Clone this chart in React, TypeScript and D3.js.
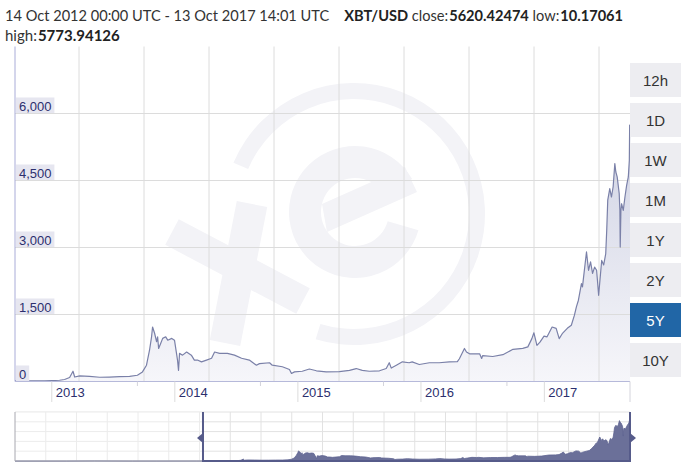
import React from 'react';
import * as d3 from 'd3';

// ---- data ----
const dates = ['2012-09-14','2012-10-28','2012-12-11','2013-01-01','2013-01-24','2013-02-08','2013-02-23','2013-03-05','2013-03-10','2013-03-25','2013-04-23','2013-05-23','2013-06-21','2013-07-21','2013-08-20','2013-09-12','2013-09-27','2013-10-09','2013-10-18','2013-10-24','2013-10-27','2013-11-02','2013-11-08','2013-11-11','2013-11-14','2013-11-20','2013-11-26','2013-12-05','2013-12-11','2013-12-23','2013-12-31','2014-01-06','2014-01-09','2014-01-12','2014-01-15','2014-01-24','2014-02-05','2014-02-19','2014-02-28','2014-03-09','2014-03-21','2014-04-05','2014-04-20','2014-04-29','2014-05-14','2014-06-06','2014-06-27','2014-07-18','2014-08-10','2014-08-31','2014-09-09','2014-10-09','2014-10-17','2014-11-16','2014-12-07','2014-12-13','2014-12-22','2015-01-14','2015-02-04','2015-02-25','2015-03-26','2015-05-04','2015-06-03','2015-06-23','2015-07-11','2015-08-01','2015-08-31','2015-09-20','2015-09-29','2015-10-05','2015-10-20','2015-11-07','2015-11-27','2015-12-06','2015-12-27','2016-01-26','2016-02-24','2016-03-25','2016-04-18','2016-04-24','2016-05-09','2016-05-15','2016-05-24','2016-06-23','2016-06-29','2016-07-02','2016-08-01','2016-08-31','2016-09-30','2016-10-29','2016-11-13','2016-11-25','2016-12-01','2016-12-10','2016-12-19','2016-12-31','2017-01-09','2017-01-24','2017-02-05','2017-02-14','2017-02-23','2017-03-10','2017-03-22','2017-03-31','2017-04-06','2017-04-12','2017-04-21','2017-04-24','2017-05-03','2017-05-06','2017-05-12','2017-05-18','2017-05-24','2017-05-30','2017-06-05','2017-06-11','2017-06-20','2017-06-26','2017-07-02','2017-07-05','2017-07-08','2017-07-14','2017-07-19','2017-07-24','2017-07-29','2017-08-01','2017-08-05','2017-08-11','2017-08-13','2017-08-14','2017-08-16','2017-08-18','2017-08-23','2017-08-28','2017-09-02','2017-09-07','2017-09-10','2017-09-11','2017-09-12'];
const closes = [12,13,15,20,28,45,90,230,100,125,115,95,100,110,115,140,215,365,700,1000,1220,1080,890,1000,740,850,965,1000,925,965,925,630,480,250,630,590,660,590,480,480,440,480,520,660,630,630,590,520,480,365,400,420,365,330,270,180,215,230,280,240,215,220,250,290,250,230,240,290,420,300,365,440,420,440,380,420,420,440,445,510,740,660,620,620,515,580,560,600,720,740,775,960,1090,810,880,1015,1000,1220,1190,960,1070,1190,1260,1480,1670,1820,2190,2120,2710,2900,2490,2680,2420,2560,2490,1930,2710,2610,2860,3390,4060,4320,4130,4360,4880,4690,4580,4210,3830,3010,3830,3980,3830,4130,4390,4580,4950,5740,5620];

// earlier history shown only in the navigator
const earlyDates = ['2010-07-04','2011-02-10','2011-06-08','2011-11-18','2012-03-01','2012-08-16'];
const earlyCloses = [0.05,1,30,2,5,13];

const yTicks = [0, 1500, 3000, 4500, 6000];
const xTickYears = [2013, 2014, 2015, 2016, 2017];
const rangeButtons = ['12h', '1D', '1W', '1M', '1Y', '2Y', '5Y', '10Y'];
const activeRange = '5Y';
const headerRange = '14 Oct 2012 00:00 UTC - 13 Oct 2017 14:01 UTC';
const pair = 'XBT/USD';
const closeVal = '5620.42474';
const lowVal = '10.17061';
const highVal = '5773.94126';

const NAVY = '#2c2f6e';
const WM = '#f3f3f7';

export default function App() {
  const W = 694, H = 465;
  const L = 15, R = 630, T = 46.5, B = 381.5;
  const parse = d3.utcParse('%Y-%m-%d');
  const series = dates.map((d, i) => ({ date: parse(d) as Date, v: closes[i] }));
  const early = earlyDates.map((d, i) => ({ date: parse(d) as Date, v: earlyCloses[i] }));
  const start = series[0].date;
  const end = series[series.length - 1].date;

  const x = d3.scaleUtc().domain([start, end]).range([L, R]);
  const y = d3.scaleLinear().domain([0, 7500]).range([B, T]);

  const areaGen = d3.area<any>().x(d => x(d.date)).y0(B).y1(d => y(d.v));
  const lineGen = d3.line<any>().x(d => x(d.date)).y(d => y(d.v));

  // navigator
  const NT = 412, NB = 461;
  const navAll = early.concat(series);
  const navX = d3.scaleUtc().domain([early[0].date, end]).range([L, R]);
  const navY = d3.scaleLinear().domain([0, 5800]).range([NB, 413]);
  const navArea = d3.area<any>().x(d => navX(d.date)).y0(NB).y1(d => navY(d.v));
  const selL = navX(start), selR = navX(end);

  const yearTicks = xTickYears.map(yr => new Date(Date.UTC(yr, 0, 1)));
  const minorTicks = d3.range(0, 5).map(k => d3.utcYear.offset(end, -k));

  const vGrid = d3.range(79, R, 65);
  const navVGrid = d3.range(1, 20).map(i => L + i * (R - L) / 20);
  const navHGrid = d3.range(1, 5).map(j => NT + j * (NB - NT) / 5);

  // watermark shapes
  const ring = d3.arc()({ innerRadius: 115, outerRadius: 131, startAngle: -67 * Math.PI / 180, endAngle: 197 * Math.PI / 180, cornerRadius: 7 } as any);
  const eArc = d3.arc()({ innerRadius: 34, outerRadius: 66, startAngle: 106 * Math.PI / 180, endAngle: 420 * Math.PI / 180, cornerRadius: 5 } as any);

  const font = 'Lato, "Open Sans", sans-serif';
  const arial = '"Liberation Sans", Arial, sans-serif';

  return (
    <svg width={W} height={H} style={{ position: 'absolute', left: 0, top: 0, background: '#fff' }}>
      <defs>
        <linearGradient id="ag" gradientUnits="userSpaceOnUse" x1="0" y1="120" x2="0" y2={B}>
          <stop offset="0" stopColor="#cfd2e3" />
          <stop offset="1" stopColor="#f6f6fa" />
        </linearGradient>
        <clipPath id="pc"><rect x={L} y={T} width={R - L} height={B - T} /></clipPath>
      </defs>

      {/* header */}
      <text x={5} y={21} fontFamily={font} fontSize={14.6} fill="#333">
        <tspan>{headerRange}</tspan>
        <tspan dx={15} fontWeight={700} fill="#222">{pair}</tspan>
        <tspan> close:</tspan>
        <tspan dx={1} fontWeight={700} fill="#222">{closeVal}</tspan>
        <tspan> low:</tspan>
        <tspan dx={1} fontWeight={700} fill="#222">{lowVal}</tspan>
      </text>
      <text x={5} y={41} fontFamily={font} fontSize={15} fill="#333">
        <tspan>high:</tspan>
        <tspan dx={1} fontWeight={700} fill="#222">{highVal}</tspan>
      </text>

      {/* watermark */}
      <g clipPath="url(#pc)" fill={WM}>
        <path d={ring as string} transform="translate(354,214)" />
        <path d={eArc as string} transform="translate(355,212)" />
        <polygon points="322,204 405,167 417,192 327,232" />
        <line x1={252} y1={204} x2={225} y2={343} stroke={WM} strokeWidth={31} />
        <line x1={172} y1={232} x2={303} y2={301} stroke={WM} strokeWidth={29} />
      </g>

      {/* area */}
      <path d={areaGen(series) as string} fill="url(#ag)" clipPath="url(#pc)" />

      {/* grid */}
      {vGrid.map(gx => (
        <line key={'v' + gx} x1={gx} x2={gx} y1={T} y2={B} stroke="#dcdcdc" strokeWidth={1} />
      ))}
      {yTicks.filter(t => t > 0).map(t => (
        <line key={'h' + t} x1={L} x2={R} y1={y(t)} y2={y(t)} stroke="#dcdcdc" strokeWidth={1} />
      ))}

      {/* line */}
      <path d={lineGen(series) as string} fill="none" stroke="#7a80a8" strokeWidth={1.2} strokeLinejoin="round" />

      {/* axes */}
      <line x1={L} x2={L} y1={T} y2={B} stroke="#a9acd8" strokeWidth={1} />
      <line x1={L} x2={R} y1={B} y2={B} stroke="#b6b9da" strokeWidth={1} />

      {/* y labels */}
      {yTicks.map(t => {
        const label = d3.format(',')(t);
        const w = label.length * 7.2 - (label.includes(',') ? 3.6 : 0) + 6;
        return (
          <g key={'yl' + t}>
            <rect x={16} y={y(t) - 16} width={w} height={15.5} fill="#e6e6f0" />
            <text x={19} y={y(t) - 3} fontFamily={arial} fontSize={13} fill={NAVY}>{label}</text>
          </g>
        );
      })}

      {/* x ticks */}
      {yearTicks.map((d, i) => (
        <g key={'xt' + i}>
          <line x1={x(d)} x2={x(d)} y1={B} y2={402} stroke="#dcdcdc" />
          <text x={x(d) + 4} y={397} fontFamily={arial} fontSize={13} fill={NAVY}>{xTickYears[i]}</text>
        </g>
      ))}
      {minorTicks.map((d, i) => (
        <line key={'mt' + i} x1={x(d)} x2={x(d)} y1={B} y2={i === 0 ? 402 : 386} stroke="#d4d4dc" />
      ))}

      {/* range buttons */}
      {rangeButtons.map((b, i) => {
        const by = 63 + i * 40;
        const active = b === activeRange;
        return (
          <g key={b}>
            <rect x={630} y={by} width={51} height={34} fill={active ? '#2166a6' : '#ededf1'} />
            <text x={655.5} y={by + 22.5} textAnchor="middle" fontFamily={arial} fontSize={15} fill={active ? '#fff' : '#333'}>{b}</text>
          </g>
        );
      })}

      {/* navigator */}
      <rect x={L} y={NT} width={R - L} height={NB - NT} fill="#fff" />
      {navVGrid.map(gx => (
        <line key={'nv' + gx} x1={gx} x2={gx} y1={NT} y2={NB} stroke="#e2e2e2" />
      ))}
      {navHGrid.map(gy => (
        <line key={'nh' + gy} x1={L} x2={R} y1={gy} y2={gy} stroke="#e2e2e2" />
      ))}
      <line x1={L} x2={R} y1={NT} y2={NT} stroke="#e2e2e2" />
      <path d={navArea(navAll) as string} fill="#6b7099" stroke="#5e6390" strokeWidth={0.8} />
      <rect x={L} y={NT} width={selL - L} height={NB - NT} fill="#fff" opacity={0.35} />
      <line x1={L} x2={L} y1={NT} y2={NB} stroke="#a8a8b0" />
      <line x1={L} x2={selL} y1={NB} y2={NB} stroke="#a8a8b0" />
      <path d={`M${selL},${NT}V${NB}H${selR}V${NT}`} fill="none" stroke="#565b8a" strokeWidth={2} />
      <path d={`M${selL - 6},${438}L${selL},${433}V${443}Z`} fill="#565b8a" />
      <path d={`M${selR + 6},${438}L${selR},${433}V${443}Z`} fill="#565b8a" />
    </svg>
  );
}
